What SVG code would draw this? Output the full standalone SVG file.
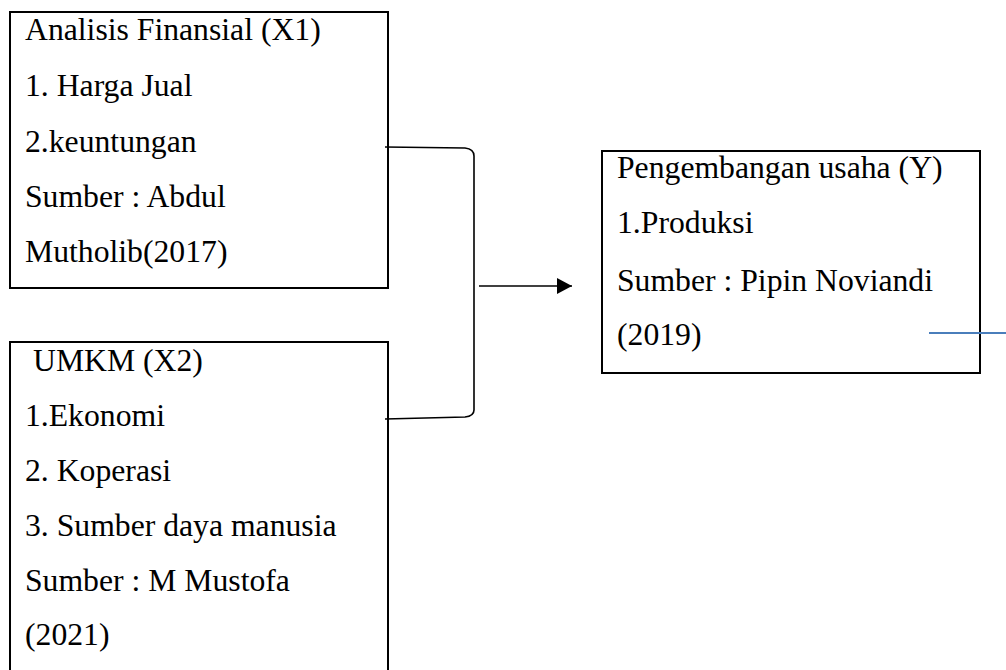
<svg xmlns="http://www.w3.org/2000/svg" width="1006" height="670" viewBox="0 0 1006 670">
<style>
.box{fill:#fff;stroke:#000;stroke-width:2}
.t{font-family:'Liberation Serif',Tinos,'Times New Roman',Times,serif;font-size:31.7px;fill:#000}
.con{fill:none;stroke:#000;stroke-width:1.6}
</style>
<defs>
<marker id="ah" markerWidth="16" markerHeight="16" refX="15" refY="8" orient="auto" markerUnits="userSpaceOnUse">
<path d="M0,0 L15,8 L0,16 Z" fill="#000"/>
</marker>
</defs>
<rect width="1006" height="670" fill="#fff"/>
<g id="node-x1">
<rect class="box" x="10" y="12" width="378" height="276"/>
<text class="t" x="25" y="40">Analisis Finansial (X1)</text>
<text class="t" x="25" y="96">1. Harga Jual</text>
<text class="t" x="25" y="152">2.keuntungan</text>
<text class="t" x="25" y="207">Sumber : Abdul</text>
<text class="t" x="25" y="262">Mutholib(2017)</text>
</g>
<g id="node-x2">
<rect class="box" x="10" y="342" width="378" height="340"/>
<text class="t" x="33" y="371">UMKM (X2)</text>
<text class="t" x="25" y="426">1.Ekonomi</text>
<text class="t" x="25" y="481">2. Koperasi</text>
<text class="t" x="25" y="536">3. Sumber daya manusia</text>
<text class="t" x="25" y="591">Sumber : M Mustofa</text>
<text class="t" x="25" y="645">(2021)</text>
</g>
<g id="node-y">
<rect class="box" x="602" y="151" width="378" height="222"/>
<text class="t" x="617" y="178">Pengembangan usaha (Y)</text>
<text class="t" x="617" y="233">1.Produksi</text>
<text class="t" x="617" y="291">Sumber : Pipin Noviandi</text>
<text class="t" x="617" y="345">(2019)</text>
</g>
<g id="connectors">
<path class="con" d="M385,147 L465,148 Q474,149 474,156 L474,410 Q474,416 465,417 L385,419"/>
<path class="con" d="M479,286 L572,286" marker-end="url(#ah)"/>
<path d="M929,333 L1006,333" fill="none" stroke="#4a7ebb" stroke-width="2"/>
</g>
</svg>
